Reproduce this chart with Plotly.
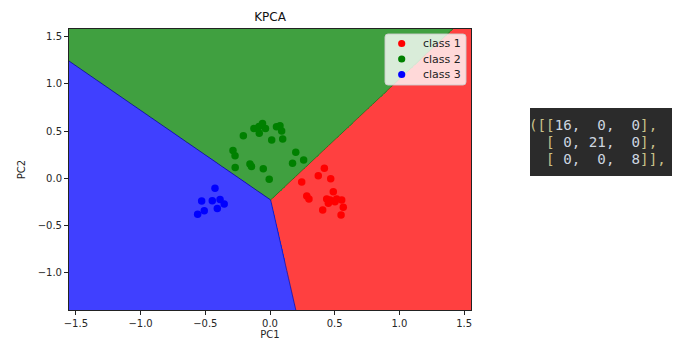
import numpy as np
import plotly.graph_objects as go

# ---- data ----
class_names = ["class 1", "class 2", "class 3"]
class1_x = [0.420, 0.373, 0.469, 0.245, 0.489, 0.284, 0.301, 0.438, 0.464, 0.515, 0.554, 0.451, 0.502, 0.566, 0.407, 0.549]
class1_y = [0.106, 0.028, -0.004, -0.039, -0.142, -0.188, -0.220, -0.220, -0.230, -0.220, -0.230, -0.265, -0.248, -0.308, -0.336, -0.389]
class2_x = [-0.058, -0.124, -0.035, -0.083, 0.050, 0.077, 0.090, -0.206, 0.013, 0.098, -0.286, -0.270, 0.199, 0.174, 0.260, -0.155, -0.269, -0.052, -0.006, -0.143, -0.085]
class2_y = [0.581, 0.528, 0.528, 0.477, 0.547, 0.558, 0.502, 0.452, 0.406, 0.417, 0.295, 0.240, 0.276, 0.159, 0.194, 0.152, 0.115, 0.102, -0.010, 0.125, 0.549]
class3_x = [-0.425, -0.528, -0.446, -0.386, -0.354, -0.407, -0.508, -0.559]
class3_y = [-0.106, -0.241, -0.238, -0.225, -0.273, -0.320, -0.344, -0.382]

# decision model: three regions meeting at a junction, separated by rays (angles in degrees)
junction = [0.005, -0.23]
ray_red_green = 52.18
ray_green_blue = 136.6
ray_blue_red = -80.54

x_ticks = [-1.5, -1.0, -0.5, 0.0, 0.5, 1.0, 1.5]
y_ticks = [-1.0, -0.5, 0.0, 0.5, 1.0, 1.5]
x_range = [-1.553, 1.553]
y_range = [-1.397, 1.583]

conf_matrix = [[16, 0, 0], [0, 21, 0], [0, 0, 8]]

region_colors = ["#FF4040", "#40A040", "#4040FF"]
point_colors = ["#FF0000", "#008000", "#0000FF"]

# ---- figure geometry ----
W, H = 678, 340
ML, MR, MT, MB = 69, 207, 29, 30
PW, PH = W - ML - MR, H - MT - MB


def px_x(p):
    return (p - ML) / PW


def px_y(p):
    return (H - MB - p) / PH


# ---- decision region grid ----
step = 0.0075
gx = np.arange(x_range[0] - 0.02, x_range[1] + 0.02, step)
gy = np.arange(y_range[0] - 0.02, y_range[1] + 0.02, step)
XX, YY = np.meshgrid(gx, gy)
ang = np.degrees(np.arctan2(YY - junction[1], XX - junction[0]))
Z = np.full(XX.shape, 2, dtype=int)
Z[(ang >= ray_blue_red) & (ang < ray_red_green)] = 0
Z[(ang >= ray_red_green) & (ang < ray_green_blue)] = 1

fig = go.Figure()
fig.add_trace(go.Heatmap(
    x=gx, y=gy, z=Z, zmin=0, zmax=2,
    colorscale=[[0, region_colors[0]], [0.333, region_colors[0]],
                [0.334, region_colors[1]], [0.666, region_colors[1]],
                [0.667, region_colors[2]], [1, region_colors[2]]],
    showscale=False, hoverinfo="skip", zsmooth=False,
))

# boundary lines along the rays
line_cols = {ray_red_green: "rgba(60,90,20,0.7)", ray_green_blue: "rgba(10,10,150,0.8)",
             ray_blue_red: "rgba(20,20,170,0.8)"}
for a, c in line_cols.items():
    t = 4.0
    ex = junction[0] + t * np.cos(np.radians(a))
    ey = junction[1] + t * np.sin(np.radians(a))
    fig.add_trace(go.Scatter(x=[junction[0], ex], y=[junction[1], ey], mode="lines",
                             line=dict(color=c, width=1), showlegend=False, hoverinfo="skip"))

for name, xs, ys, col in zip(class_names, [class1_x, class2_x, class3_x],
                             [class1_y, class2_y, class3_y], point_colors):
    fig.add_trace(go.Scatter(x=xs, y=ys, mode="markers", name=name, showlegend=False,
                             marker=dict(color=col, size=7.5, line=dict(width=0))))

axis_font = dict(family="DejaVu Sans", size=10, color="#262626")
common = dict(showgrid=False, zeroline=False, showline=True, linecolor="#222222", linewidth=1,
              mirror=True, ticks="outside", ticklen=4, tickwidth=1, tickcolor="#222222",
              tickfont=axis_font, tickformat=".1f", automargin=False)
fig.update_xaxes(range=x_range, tickvals=x_ticks, title=dict(text="PC1", font=axis_font, standoff=4), **common)
fig.update_yaxes(range=y_range, tickvals=y_ticks, title=dict(text="PC2", font=axis_font, standoff=10), **common)

fig.update_layout(
    width=W, height=H, margin=dict(l=ML, r=MR, t=MT, b=MB, autoexpand=False),
    paper_bgcolor="white", plot_bgcolor="white",
    title=dict(text="KPCA", xref="paper", x=0.5, xanchor="center", yref="container",
               y=1 - 17 / H, yanchor="middle",
               font=dict(family="DejaVu Sans", size=12, color="#111111")),
    showlegend=False,
)

# ---- legend drawn inside the axes (matplotlib style) ----
lx0, lx1, ly0, ly1, r = 385, 466, 34, 85, 3
x0, x1 = px_x(lx0), px_x(lx1)
ya, yb = px_y(ly0), px_y(ly1)
rx, ry = r / PW, r / PH
path = (f"M {x0+rx} {ya} L {x1-rx} {ya} Q {x1} {ya} {x1} {ya-ry} L {x1} {yb+ry} "
        f"Q {x1} {yb} {x1-rx} {yb} L {x0+rx} {yb} Q {x0} {yb} {x0} {yb+ry} "
        f"L {x0} {ya-ry} Q {x0} {ya} {x0+rx} {ya} Z")
fig.add_shape(type="path", xref="paper", yref="paper", path=path,
              fillcolor="rgba(255,255,255,0.8)", line=dict(color="rgba(204,204,204,0.9)", width=1),
              layer="above")
legend_rows = [43.5, 59, 74.5]
mr = 3.6
for name, col, ry_px in zip(class_names, point_colors, legend_rows):
    fig.add_shape(type="circle", xref="paper", yref="paper",
                  x0=px_x(401.7 - mr), x1=px_x(401.7 + mr), y0=px_y(ry_px + mr), y1=px_y(ry_px - mr),
                  fillcolor=col, line=dict(width=0), layer="above")
    fig.add_annotation(xref="paper", yref="paper", x=px_x(421), y=px_y(ry_px),
                       xanchor="left", yanchor="middle", showarrow=False, text=name,
                       font=dict(family="DejaVu Sans", size=11, color="#222222"))

# ---- dark console box with the confusion matrix ----
fig.add_shape(type="rect", xref="paper", yref="paper",
              x0=px_x(530), x1=px_x(672), y0=px_y(176), y1=px_y(108),
              fillcolor="#2b2b2b", line=dict(width=0), layer="above")

br = "#c9c28a"
num = "#cdd6e0"


def fmt_row(i, row):
    nb = "\u00a0"
    parts = []
    if i == 0:
        parts.append(f"<span style='color:{br}'>([[</span>")
    else:
        parts.append(nb * 2 + f"<span style='color:{br}'>[</span>")
    for j, v in enumerate(row):
        s = f"{v:2d}".replace(" ", nb)
        parts.append(f"<span style='color:{num}'>{s}</span>")
        if j < len(row) - 1:
            parts.append(f"<span style='color:{num}'>,{nb}</span>")
    close = "]]," if i == len(conf_matrix) - 1 else "],"
    parts.append(f"<span style='color:{br}'>{close}</span>")
    return "".join(parts)


row_y = [125, 142, 159]
for i, row in enumerate(conf_matrix):
    fig.add_annotation(xref="paper", yref="paper", x=px_x(527), y=px_y(row_y[i]),
                       xanchor="left", yanchor="middle", showarrow=False,
                       text=fmt_row(i, row),
                       font=dict(family="DejaVu Sans Mono", size=14.2, color=num))

fig.write_html("out.html", config={"displayModeBar": False},
               post_script="document.body.style.margin='0px';")
